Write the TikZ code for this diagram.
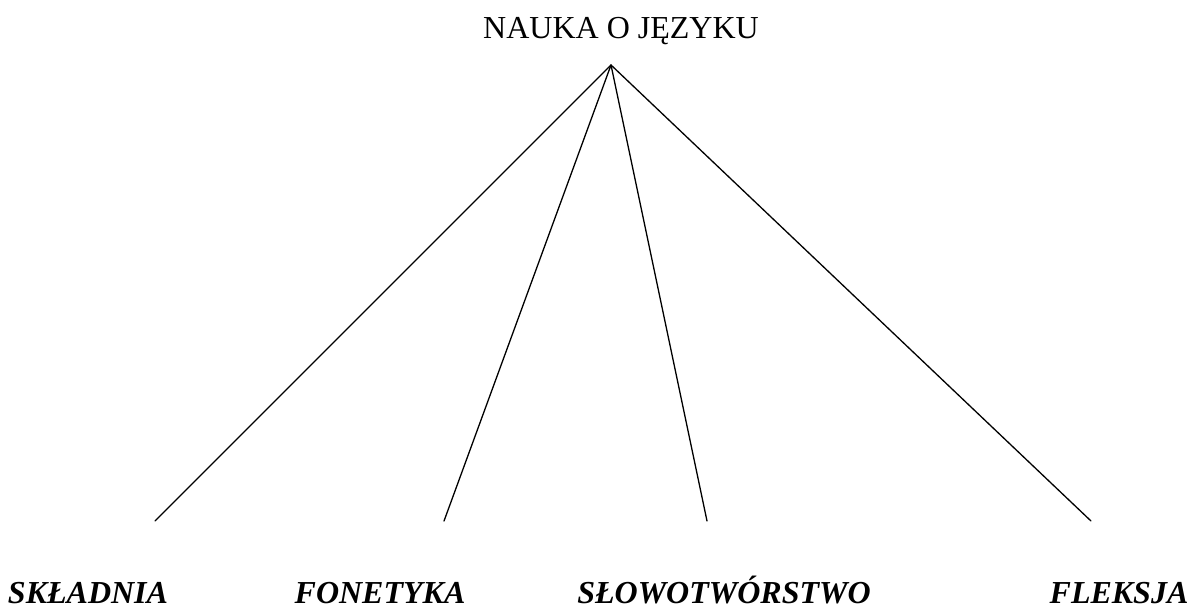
\documentclass[tikz,border=0pt]{standalone}
\usepackage{fontspec}
\setmainfont{Liberation Serif}
\begin{document}
\begin{tikzpicture}[x=1pt,y=-1pt,
  toplabel/.style={anchor=base,inner sep=0pt,font=\fontsize{32}{38}\selectfont},
  leaf/.style={anchor=base,inner sep=0pt,font=\fontsize{32}{38}\selectfont\bfseries\itshape},
  branch/.style={line width=1.3pt,line cap=round}]
\useasboundingbox (0,0) rectangle (1190,605);
\node[toplabel] (root) at (621,38) {NAUKA O JĘZYKU};
\coordinate (apex) at (611,65);
\coordinate (e1) at (155,521);
\coordinate (e2) at (444,521);
\coordinate (e3) at (707,521);
\coordinate (e4) at (1091,521);
\draw[branch] (apex) -- (e1);
\draw[branch] (apex) -- (e2);
\draw[branch] (apex) -- (e3);
\draw[branch] (apex) -- (e4);
\node[leaf] (skladnia) at (88,603) {SKŁADNIA};
\node[leaf] (fonetyka) at (380,603) {FONETYKA};
\node[leaf] (slowo) at (724,603) {SŁOWOTWÓRSTWO};
\node[leaf] (fleksja) at (1119,603) {FLEKSJA};
\end{tikzpicture}
\end{document}
